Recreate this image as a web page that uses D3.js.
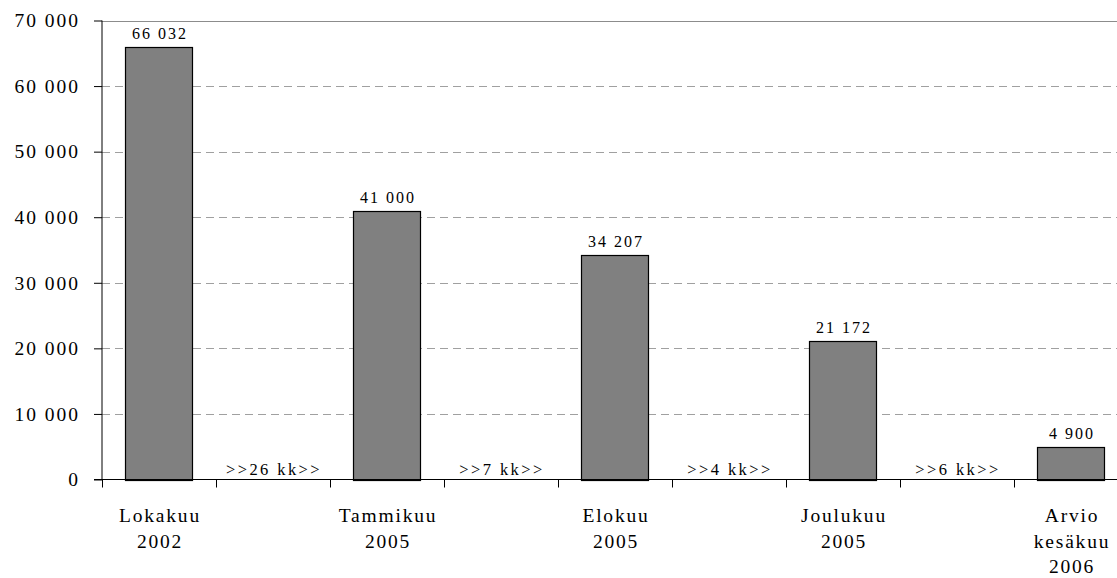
<!DOCTYPE html>
<html>
<head>
<meta charset="utf-8">
<script src="https://cdn.jsdelivr.net/npm/d3@7"></script>
<style>
  body { margin: 0; background: #fff; }
  svg { display: block; }
  text { font-family: 'Liberation Serif', 'Times New Roman', Tinos, Times; fill: #000; }
</style>
</head>
<body>
<svg id="chart" width="1117" height="578"></svg>
<script>
// Categories along the x axis; gap slots carry a month-span note instead of a bar
const categories = ["Lokakuu\n2002", "g1", "Tammikuu\n2005", "g2", "Elokuu\n2005", "g3", "Joulukuu\n2005", "g4", "Arvio\nkesäkuu\n2006"];
const values = [66032, null, 41000, null, 34207, null, 21172, null, 4900];
const valueLabels = ["66 032", "", "41 000", "", "34 207", "", "21 172", "", "4 900"];
const gapLabels = ["", ">>26 kk>>", "", ">>7 kk>>", "", ">>4 kk>>", "", ">>6 kk>>", ""];
const yTicks = [0, 10000, 20000, 30000, 40000, 50000, 60000, 70000];

const FONT = "'Liberation Serif', 'Times New Roman', Tinos, Times";
const svg = d3.select("#chart");
const plotLeft = 102, step = 114;
const plotRight = plotLeft + step * categories.length;
const plotTop = 20.5, plotBottom = 479.5;

const x = d3.scaleBand()
  .domain(categories)
  .range([plotLeft, plotRight])
  .paddingInner(0.41)
  .paddingOuter(0.205);

const y = d3.scaleLinear().domain([0, 70000]).range([plotBottom, plotTop]);

const fmt = v => d3.format(",")(v).replace(/,/g, " ");

// Horizontal gridlines: dashed inside, solid at the top of the plot
svg.append("g").selectAll("line")
  .data(yTicks.filter(t => t > 0))
  .join("line")
  .attr("x1", plotLeft).attr("x2", 1117)
  .attr("y1", d => Math.round(y(d)) + 0.5).attr("y2", d => Math.round(y(d)) + 0.5)
  .attr("stroke", d => d === 70000 ? "#8c8c8c" : "#a0a0a0")
  .attr("stroke-width", 1)
  .attr("stroke-dasharray", d => d === 70000 ? null : "8,5");

// Y axis
const yAxis = d3.axisLeft(y).tickValues(yTicks).tickSize(8).tickPadding(14).tickFormat(fmt);
const gy = svg.append("g").attr("transform", `translate(${plotLeft},0)`).call(yAxis)
  .attr("font-family", FONT).attr("font-size", 19.5);
gy.select(".domain").attr("stroke", "#000").attr("d", `M-0,${plotTop}V${plotBottom}`);
gy.selectAll(".tick line").attr("stroke", "#000");
gy.selectAll(".tick text")
  .attr("fill", "#000")
  .style("font-family", FONT)
  .style("font-size", "19.5px")
  .style("letter-spacing", "2px");

// Bars
const barData = categories.map((c, i) => ({ c, v: values[i], label: valueLabels[i], gap: gapLabels[i] }));
svg.append("g").selectAll("rect")
  .data(barData.filter(d => d.v !== null))
  .join("rect")
  .attr("x", d => Math.round(x(d.c)) + 0.5)
  .attr("y", d => Math.round(y(d.v)) + 0.5)
  .attr("width", d => Math.round(x.bandwidth()))
  .attr("height", d => Math.round(y(0)) - Math.round(y(d.v)))
  .attr("fill", "#808080")
  .attr("stroke", "#000")
  .attr("stroke-width", 1.2);

// Value labels above the bars
svg.append("g").selectAll("text")
  .data(barData.filter(d => d.v !== null))
  .join("text")
  .attr("x", d => x(d.c) + x.bandwidth() / 2 + 1)
  .attr("y", d => y(d.v) - 8)
  .attr("text-anchor", "middle")
  .style("font-family", FONT)
  .style("font-size", "16px")
  .style("letter-spacing", "2px")
  .text(d => d.label);

// Gap notes sitting on the baseline
svg.append("g").selectAll("text")
  .data(barData.filter(d => d.gap))
  .join("text")
  .attr("x", d => x(d.c) + x.bandwidth() / 2 + 1)
  .attr("y", plotBottom - 5)
  .attr("text-anchor", "middle")
  .style("font-family", FONT)
  .style("font-size", "16.5px")
  .style("letter-spacing", "2.4px")
  .text(d => d.gap);

// X axis baseline with boundary ticks between categories
svg.append("line")
  .attr("x1", 94).attr("x2", 1117)
  .attr("y1", plotBottom).attr("y2", plotBottom)
  .attr("stroke", "#000");
svg.append("g").selectAll("line")
  .data(d3.range(categories.length + 1))
  .join("line")
  .attr("x1", i => Math.round(plotLeft + i * x.step()) + 0.5)
  .attr("x2", i => Math.round(plotLeft + i * x.step()) + 0.5)
  .attr("y1", plotBottom).attr("y2", plotBottom + 8)
  .attr("stroke", "#000");

// Category labels below the axis
const catText = svg.append("g").selectAll("text")
  .data(barData.filter(d => d.v !== null))
  .join("text")
  .attr("x", d => x(d.c) + x.bandwidth() / 2 + 1)
  .attr("y", 522)
  .attr("text-anchor", "middle")
  .style("font-family", FONT)
  .style("font-size", "19.5px")
  .style("letter-spacing", "1.8px");
catText.selectAll("tspan")
  .data(d => d.c.split("\n"))
  .join("tspan")
  .attr("x", function () { return d3.select(this.parentNode).attr("x"); })
  .attr("dy", (d, i) => i === 0 ? 0 : 25.5)
  .text(d => d);
</script>
</body>
</html>
